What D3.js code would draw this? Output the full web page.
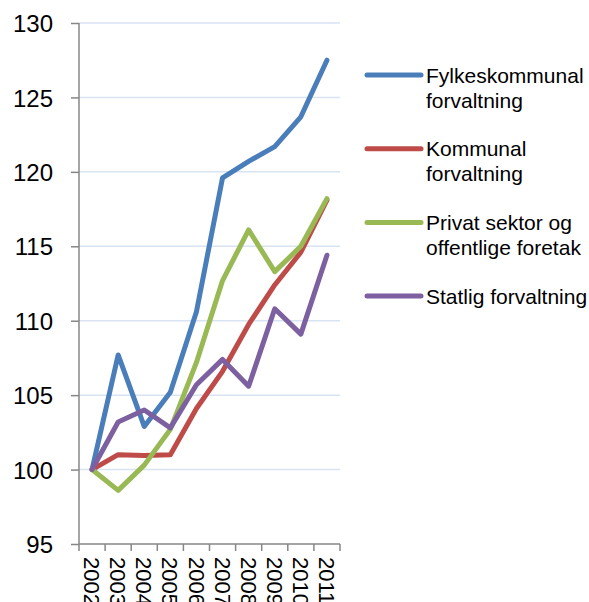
<!DOCTYPE html>
<html>
<head>
<meta charset="utf-8">
<script src="https://cdn.jsdelivr.net/npm/d3@7"></script>
<style>
  body { margin: 0; background: #fff; }
  text { font-family: "Liberation Sans", Arial, sans-serif; fill: #000; }
</style>
</head>
<body>
<div id="chart"></div>
<script>
const years = ["2002", "2003", "2004", "2005", "2006", "2007", "2008", "2009", "2010", "2011"];
const fylkeskommunal = [100, 107.7, 102.9, 105.2, 110.6, 119.6, 120.7, 121.7, 123.7, 127.5];
const kommunal = [100, 101.0, 100.95, 101.0, 104.1, 106.6, 109.75, 112.4, 114.6, 118.1];
const privat = [100, 98.6, 100.3, 102.7, 107.2, 112.7, 116.1, 113.3, 115.0, 118.2];
const statlig = [100, 103.2, 104.0, 102.8, 105.7, 107.4, 105.6, 110.8, 109.1, 114.4];
const yTicks = [95, 100, 105, 110, 115, 120, 125, 130];

const series = [
    {name: ["Fylkeskommunal", "forvaltning"], values: fylkeskommunal, color: "#4a7ebb"},
    {name: ["Kommunal", "forvaltning"], values: kommunal, color: "#be4b48"},
    {name: ["Privat sektor og", "offentlige foretak"], values: privat, color: "#98b954"},
    {name: ["Statlig forvaltning"], values: statlig, color: "#7d60a0"}
];

const margin = {top: 23, right: 249, bottom: 58, left: 79},
    width = 589 - margin.left - margin.right,
    height = 602 - margin.top - margin.bottom;

const svg = d3.select("#chart").append("svg")
    .attr("width", 589)
    .attr("height", 602)
  .append("g")
    .attr("transform", "translate(" + margin.left + "," + margin.top + ")");

const x = d3.scaleBand()
    .domain(years)
    .range([0, width]);

const y = d3.scaleLinear()
    .domain([95, 130])
    .range([height, 0]);

// grid lines
svg.selectAll("line.grid").data(yTicks.filter(d => d > 95))
    .enter()
    .append("line")
    .attr("class", "grid")
    .attr("x1", 0)
    .attr("x2", width)
    .attr("y1", d => y(d))
    .attr("y2", d => y(d))
    .attr("stroke", "#d9e4f2")
    .attr("stroke-width", 1.5);

// y axis
const yAxis = svg.append("g")
    .call(d3.axisLeft(y).tickValues(yTicks).tickSize(8).tickPadding(18));
yAxis.selectAll("text").style("font-size", "24px").attr("dy", "0.36em");
yAxis.selectAll("line, path").attr("stroke", "#878787").attr("stroke-width", 1.5);
yAxis.select(".domain").attr("d", "M0," + height + "V0");

// x axis: baseline and ticks at category borders
svg.append("line")
    .attr("x1", 0).attr("x2", width)
    .attr("y1", height).attr("y2", height)
    .attr("stroke", "#878787").attr("stroke-width", 1.5);

svg.selectAll("line.xtick").data(years.concat(["end"]))
    .enter()
    .append("line")
    .attr("class", "xtick")
    .attr("x1", d => d === "end" ? width : x(d))
    .attr("x2", d => d === "end" ? width : x(d))
    .attr("y1", height)
    .attr("y2", height + 7)
    .attr("stroke", "#878787").attr("stroke-width", 1.5);

svg.selectAll("text.xlabel").data(years)
    .enter()
    .append("text")
    .attr("class", "xlabel")
    .attr("transform", d => "translate(" + (x(d) + x.bandwidth() / 2) + "," + (height + 13) + ") rotate(90)")
    .attr("dy", "0.36em")
    .attr("text-anchor", "start")
    .style("font-size", "22px")
    .text(d => d);

// lines
const line = d3.line()
    .x((d, i) => x(years[i]) + x.bandwidth() / 2)
    .y(d => y(d));

svg.selectAll("path.series").data(series)
    .enter()
    .append("path")
    .attr("class", "series")
    .attr("fill", "none")
    .attr("stroke", d => d.color)
    .attr("stroke-width", 5)
    .attr("stroke-linejoin", "round")
    .attr("stroke-linecap", "round")
    .attr("d", d => line(d.values));

// legend
const legend = svg.selectAll("g.legend").data(series)
    .enter()
    .append("g")
    .attr("class", "legend")
    .attr("transform", (d, i) => "translate(" + (288) + "," + (52 + i * 73.7) + ")");

legend.append("line")
    .attr("x1", 0).attr("x2", 54)
    .attr("y1", 0).attr("y2", 0)
    .attr("stroke", d => d.color)
    .attr("stroke-width", 5)
    .attr("stroke-linecap", "round");

legend.append("text")
    .attr("x", 59)
    .style("font-size", "21px")
    .selectAll("tspan").data(d => d.name)
    .enter()
    .append("tspan")
    .attr("x", 59)
    .attr("y", (d, i) => i * 25)
    .attr("dy", "0.36em")
    .text(d => d);
</script>
</body>
</html>
